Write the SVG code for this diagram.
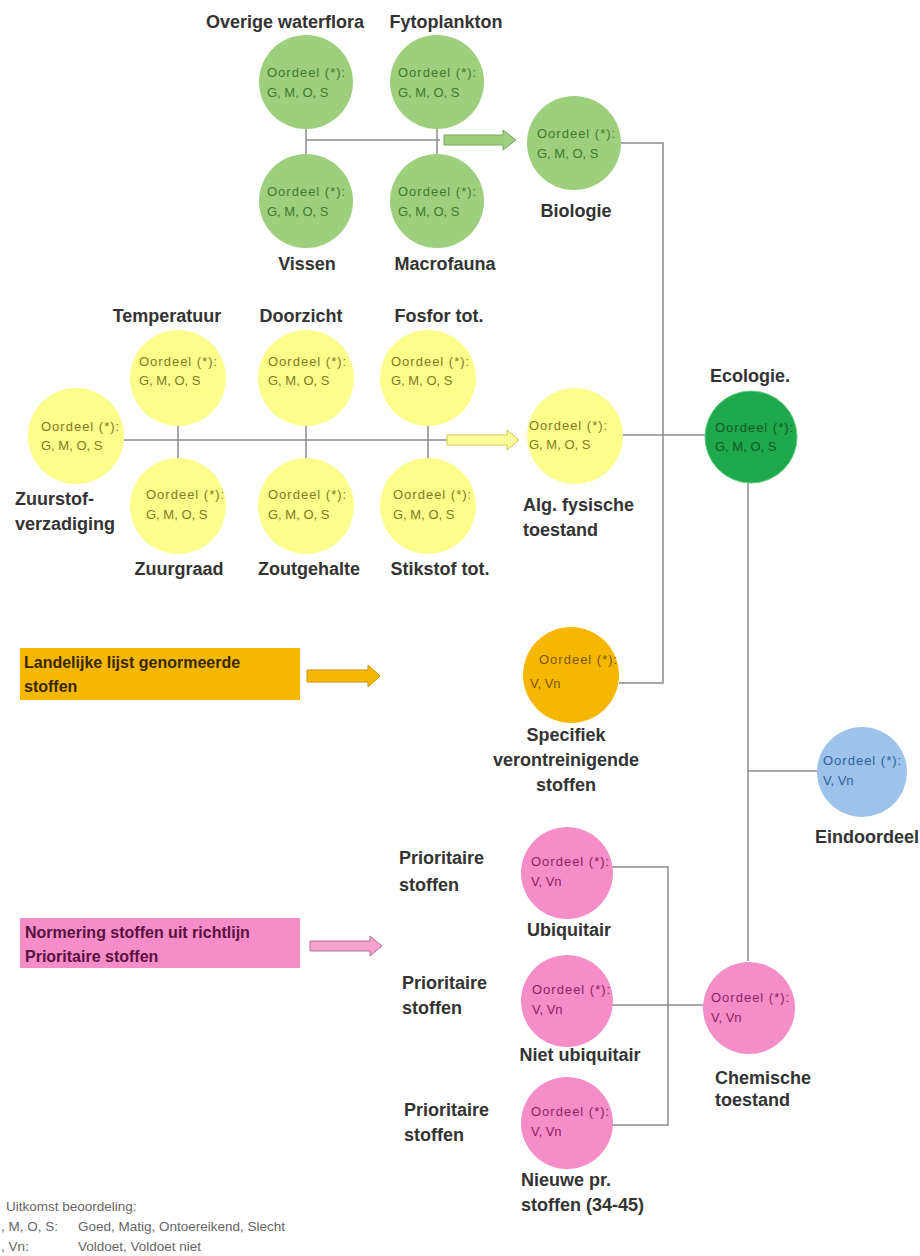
<svg xmlns="http://www.w3.org/2000/svg" width="920" height="1256" viewBox="0 0 920 1256">
<style>
.bg{fill:#ffffff}
.lbl{font-family:"Liberation Sans",Arial,sans-serif;font-weight:bold;font-size:18px;fill:#333333}
.o{font-family:"Liberation Sans",Arial,sans-serif;font-size:13px}
.o1{letter-spacing:1px}
.ln{fill:none;stroke:#8c8c8c;stroke-width:1.5}
.g{fill:#9dcf7d}.gt{fill:#3d7a2b}
.y{fill:#fdfd8c}.yt{fill:#7f7b1e}
.dg{fill:#1fa84c}.dgt{fill:#0f5a23}
.or{fill:#f6b700}.ort{fill:#7c5600}
.b{fill:#9dc3ea}.bt{fill:#2f5f9a}
.p{fill:#f58dc8}.pt{fill:#8c1f60}
.box{font-family:"Liberation Sans",Arial,sans-serif;font-weight:bold;font-size:16px}
.leg{font-family:"Liberation Sans",Arial,sans-serif;font-size:13.5px;fill:#666666}
</style>
<rect class="bg" x="0" y="0" width="920" height="1256"/>

<g id="connectors">
  <path class="ln" d="M306,129 V155 M437,129 V155 M306,140 H440"/>
  <polygon points="444,135 503,135 503,130 516,140 503,150 503,145 444,145" fill="#9dcf7d" stroke="#78a865" stroke-width="1"/>
  <path class="ln" d="M621,143 H663 V683 H619"/>
  <path class="ln" d="M124,440 H447 M178,425 V460 M306,425 V460 M428,425 V460"/>
  <polygon points="447,435 507,435 507,430 519,440 507,450 507,445 447,445" fill="#fdfd9a" stroke="#c8c650" stroke-width="1"/>
  <path class="ln" d="M623,435 H705"/>
  <path class="ln" d="M748,483 V961 M748,771 H817"/>
  <polygon points="307,670 368,670 368,665 380,676 368,687 368,682 307,682" fill="#f6b700" stroke="#c99400" stroke-width="1"/>
  <polygon points="310,941 370,941 370,936 382,946 370,956 370,951 310,951" fill="#f5a2cc" stroke="#b07494" stroke-width="1"/>
  <path class="ln" d="M612,867 H668 V1125 H612 M612,1005 H704"/>
</g>

<g id="overige-waterflora">
  <text class="lbl" x="285" y="28" text-anchor="middle">Overige waterflora</text>
  <circle class="g" cx="306" cy="82" r="47"/>
  <text class="o o1 gt" x="267" y="77">Oordeel (*):</text>
  <text class="o gt" x="267" y="97">G, M, O, S</text>
</g>
<g id="fytoplankton">
  <text class="lbl" x="446" y="28" text-anchor="middle">Fytoplankton</text>
  <circle class="g" cx="437" cy="82" r="47"/>
  <text class="o o1 gt" x="398" y="77">Oordeel (*):</text>
  <text class="o gt" x="398" y="97">G, M, O, S</text>
</g>
<g id="vissen">
  <circle class="g" cx="306" cy="201" r="47"/>
  <text class="o o1 gt" x="267" y="196">Oordeel (*):</text>
  <text class="o gt" x="267" y="216">G, M, O, S</text>
  <text class="lbl" x="307" y="270" text-anchor="middle">Vissen</text>
</g>
<g id="macrofauna">
  <circle class="g" cx="437" cy="201" r="47"/>
  <text class="o o1 gt" x="398" y="196">Oordeel (*):</text>
  <text class="o gt" x="398" y="216">G, M, O, S</text>
  <text class="lbl" x="445" y="270" text-anchor="middle">Macrofauna</text>
</g>
<g id="biologie">
  <circle class="g" cx="574" cy="143" r="47"/>
  <text class="o o1 gt" x="537" y="138">Oordeel (*):</text>
  <text class="o gt" x="537" y="158">G, M, O, S</text>
  <text class="lbl" x="576" y="217" text-anchor="middle">Biologie</text>
</g>

<g id="temperatuur">
  <text class="lbl" x="167" y="322" text-anchor="middle">Temperatuur</text>
  <circle class="y" cx="178" cy="378" r="48"/>
  <text class="o o1 yt" x="139" y="366">Oordeel (*):</text>
  <text class="o yt" x="139" y="385">G, M, O, S</text>
</g>
<g id="doorzicht">
  <text class="lbl" x="301" y="322" text-anchor="middle">Doorzicht</text>
  <circle class="y" cx="306" cy="378" r="48"/>
  <text class="o o1 yt" x="268" y="366">Oordeel (*):</text>
  <text class="o yt" x="268" y="385">G, M, O, S</text>
</g>
<g id="fosfor">
  <text class="lbl" x="439" y="322" text-anchor="middle">Fosfor tot.</text>
  <circle class="y" cx="428" cy="378" r="48"/>
  <text class="o o1 yt" x="391" y="366">Oordeel (*):</text>
  <text class="o yt" x="391" y="385">G, M, O, S</text>
</g>
<g id="zuurstof">
  <circle class="y" cx="76" cy="436" r="48"/>
  <text class="o o1 yt" x="41" y="431">Oordeel (*):</text>
  <text class="o yt" x="41" y="450">G, M, O, S</text>
  <text class="lbl" x="15" y="505">Zuurstof-</text>
  <text class="lbl" x="15" y="530">verzadiging</text>
</g>
<g id="zuurgraad">
  <circle class="y" cx="178" cy="506" r="48"/>
  <text class="o o1 yt" x="146" y="499">Oordeel (*):</text>
  <text class="o yt" x="146" y="519">G, M, O, S</text>
  <text class="lbl" x="179" y="575" text-anchor="middle">Zuurgraad</text>
</g>
<g id="zoutgehalte">
  <circle class="y" cx="306" cy="506" r="48"/>
  <text class="o o1 yt" x="268" y="499">Oordeel (*):</text>
  <text class="o yt" x="268" y="519">G, M, O, S</text>
  <text class="lbl" x="309" y="575" text-anchor="middle">Zoutgehalte</text>
</g>
<g id="stikstof">
  <circle class="y" cx="428" cy="506" r="48"/>
  <text class="o o1 yt" x="393" y="499">Oordeel (*):</text>
  <text class="o yt" x="393" y="519">G, M, O, S</text>
  <text class="lbl" x="440" y="575" text-anchor="middle">Stikstof tot.</text>
</g>
<g id="alg-fysische-toestand">
  <circle class="y" cx="575" cy="436" r="48"/>
  <text class="o o1 yt" x="529" y="430">Oordeel (*):</text>
  <text class="o yt" x="529" y="449">G, M, O, S</text>
  <text class="lbl" x="523" y="511">Alg. fysische</text>
  <text class="lbl" x="523" y="536">toestand</text>
</g>

<g id="ecologie">
  <text class="lbl" x="750" y="382" text-anchor="middle">Ecologie.</text>
  <circle class="dg" cx="751" cy="437" r="46" stroke="#5fd07f" stroke-width="1"/>
  <text class="o o1 dgt" x="715" y="432">Oordeel (*):</text>
  <text class="o dgt" x="715" y="451">G, M, O, S</text>
</g>

<g id="landelijke-lijst">
  <rect class="or" x="20" y="648" width="280" height="52"/>
  <text class="box" x="24" y="668" fill="#3a2800">Landelijke lijst genormeerde</text>
  <text class="box" x="24" y="692" fill="#3a2800">stoffen</text>
</g>
<g id="specifiek">
  <circle class="or" cx="571" cy="675" r="48"/>
  <text class="o o1 ort" x="539" y="664">Oordeel (*):</text>
  <text class="o ort" x="530" y="688">V, Vn</text>
  <text class="lbl" x="566" y="741" text-anchor="middle">Specifiek</text>
  <text class="lbl" x="566" y="766" text-anchor="middle">verontreinigende</text>
  <text class="lbl" x="566" y="791" text-anchor="middle">stoffen</text>
</g>

<g id="eindoordeel">
  <circle class="b" cx="862" cy="772" r="45"/>
  <text class="o o1 bt" x="823" y="765">Oordeel (*):</text>
  <text class="o bt" x="823" y="785">V, Vn</text>
  <text class="lbl" x="815" y="843">Eindoordeel</text>
</g>

<g id="normering">
  <rect class="p" x="20" y="918" width="280" height="50"/>
  <text class="box" x="25" y="938" fill="#5a1040">Normering stoffen uit richtlijn</text>
  <text class="box" x="25" y="962" fill="#5a1040">Prioritaire stoffen</text>
</g>
<g id="ubiquitair">
  <text class="lbl" x="399" y="864">Prioritaire</text>
  <text class="lbl" x="399" y="891">stoffen</text>
  <circle class="p" cx="567" cy="873" r="46"/>
  <text class="o o1 pt" x="531" y="866">Oordeel (*):</text>
  <text class="o pt" x="531" y="886">V, Vn</text>
  <text class="lbl" x="569" y="936" text-anchor="middle">Ubiquitair</text>
</g>
<g id="niet-ubiquitair">
  <text class="lbl" x="402" y="989">Prioritaire</text>
  <text class="lbl" x="402" y="1014">stoffen</text>
  <circle class="p" cx="567" cy="1001" r="46"/>
  <text class="o o1 pt" x="532" y="994">Oordeel (*):</text>
  <text class="o pt" x="532" y="1014">V, Vn</text>
  <text class="lbl" x="580" y="1061" text-anchor="middle">Niet ubiquitair</text>
</g>
<g id="nieuwe">
  <text class="lbl" x="404" y="1116">Prioritaire</text>
  <text class="lbl" x="404" y="1141">stoffen</text>
  <circle class="p" cx="567" cy="1123" r="46"/>
  <text class="o o1 pt" x="531" y="1116">Oordeel (*):</text>
  <text class="o pt" x="531" y="1136">V, Vn</text>
  <text class="lbl" x="521" y="1186">Nieuwe pr.</text>
  <text class="lbl" x="521" y="1211">stoffen (34-45)</text>
</g>
<g id="chemische-toestand">
  <circle class="p" cx="749" cy="1008" r="46"/>
  <text class="o o1 pt" x="711" y="1002">Oordeel (*):</text>
  <text class="o pt" x="711" y="1022">V, Vn</text>
  <text class="lbl" x="715" y="1084">Chemische</text>
  <text class="lbl" x="715" y="1106">toestand</text>
</g>

<g id="legend">
  <text class="leg" x="6" y="1211">Uitkomst beoordeling:</text>
  <text class="leg" x="1" y="1231">, M, O, S:</text>
  <text class="leg" x="78" y="1231">Goed, Matig, Ontoereikend, Slecht</text>
  <text class="leg" x="1" y="1251">, Vn:</text>
  <text class="leg" x="78" y="1251">Voldoet, Voldoet niet</text>
</g>
</svg>
